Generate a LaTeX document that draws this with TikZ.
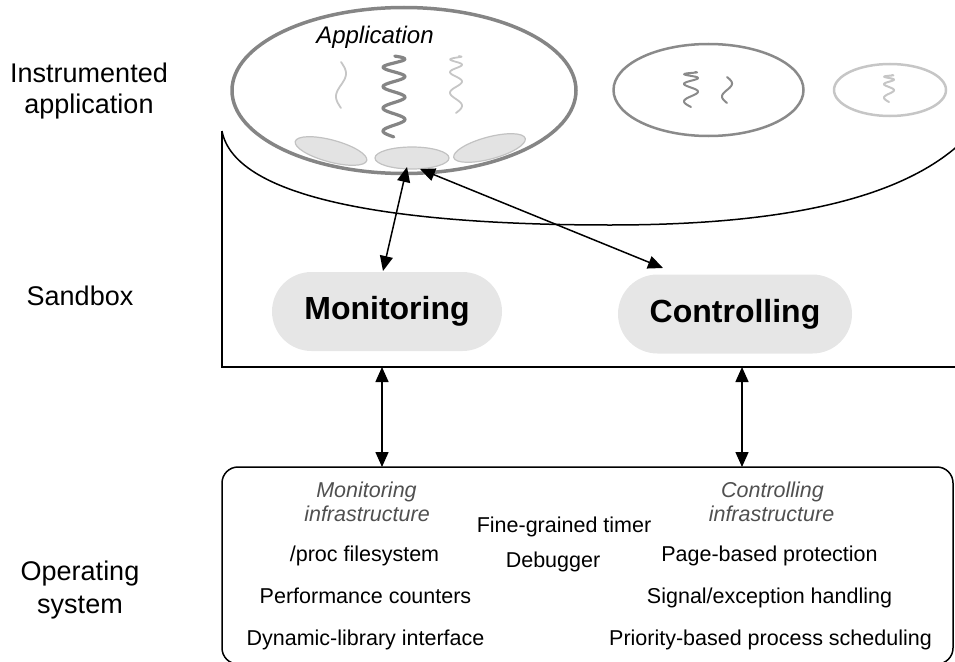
\documentclass[tikz,border=0pt]{standalone}
\usepackage{fontspec}
\setmainfont{Liberation Sans}
\usetikzlibrary{arrows.meta,shapes.geometric,shapes.misc}
\definecolor{pillgray}{HTML}{E6E6E6}
\definecolor{appgray}{HTML}{858585}
\definecolor{midgray}{HTML}{8A8A8A}
\definecolor{lightgray2}{HTML}{C6C6C6}
\definecolor{portfill}{HTML}{E3E3E3}
\definecolor{portedge}{HTML}{C2C2C2}
\definecolor{infragray}{HTML}{505050}
\newcommand\drawthread[8]{%
  \draw[color=#7, line width=#8, line cap=round, line join=round]
    plot[domain=0.001:1, samples=90, smooth]
    ({#1+#4*sin(360*#5*((\x)^(#6)))}, {#2+#3*\x});}
\tikzset{tiphead/.tip={Triangle[length=15pt,width=13pt]}}
\begin{document}
\begin{tikzpicture}[x=1pt, y=-1pt,
  lbl/.style={anchor=base, inner sep=0, font=\fontsize{27}{31}\selectfont},
  ostext/.style={anchor=base, inner sep=0, font=\fontsize{21.5}{25}\selectfont},
  osital/.style={anchor=base, inner sep=0, font=\fontsize{21.5}{25}\selectfont\itshape, text=infragray},
  pill/.style={rounded rectangle, fill=pillgray, minimum height=79pt, inner sep=0,
               font=\fontsize{32}{36}\selectfont\bfseries},
  port/.style={ellipse, fill=portfill, draw=portedge, line width=1.2pt, inner sep=0,
               minimum width=74pt, minimum height=22pt},
  conn/.style={line width=1.5pt, tiphead-tiphead},
  frame/.style={line width=1.5pt, black}]
\useasboundingbox (0,0) rectangle (955,661);

% left labels
\node[lbl] (ia1) at (89,82) {Instrumented};
\node[lbl] (ia2) at (89,113) {application};
\node[lbl] (sb) at (80,305) {Sandbox};
\node[lbl] (os1) at (80,580) {Operating};
\node[lbl] (os2) at (80,613) {system};

% sandbox outline
\draw[frame] (222,131) -- (222,367) -- (955,367);
\draw[frame] (222,131) .. controls (235,200) and (400,225) .. (610,225)
                       .. controls (780,225) and (900,200) .. (962,142);

% application (main)
\draw[appgray, line width=3.5pt] (404,90.5) ellipse [x radius=172, y radius=83];
\node[anchor=base, inner sep=0, font=\fontsize{24}{28}\selectfont\itshape] (apptitle) at (375,44) {Application};
\drawthread{341}{62}{46}{5}{1}{1}{lightgray2}{1.8pt}
\drawthread{394}{56}{81}{11}{4}{0.85}{appgray}{3.2pt}
\drawthread{456}{56}{57}{6}{3.5}{0.55}{lightgray2}{1.8pt}
\node[port, rotate=-15] (portL) at (331,151) {};
\node[port] (port) at (412,158) {};
\node[port, rotate=15] (portR) at (489.5,148) {};

% other applications
\draw[midgray, line width=2.5pt] (708.5,90) ellipse [x radius=95, y radius=46];
\drawthread{691}{72}{35}{7}{3}{0.5}{midgray}{2pt}
\drawthread{727}{77}{26}{5}{1}{1}{midgray}{2pt}
\draw[lightgray2, line width=2.5pt] (890,90) ellipse [x radius=56, y radius=26];
\drawthread{889}{75}{27}{5}{3}{0.5}{lightgray2}{2pt}

% sandbox components
\node[pill, minimum width=230pt] (mon) at (387,311.5) {Monitoring};
\node[pill, minimum width=234pt] (ctl) at (735,314) {Controlling};

% operating system box
\draw[frame, rounded corners=16pt] (222,467) rectangle (953,664);
\node[osital] (mi1) at (366.5,497) {Monitoring};
\node[osital] (mi2) at (367,521) {infrastructure};
\node[ostext] (proc) at (364.5,561) {/proc filesystem};
\node[ostext] (perf) at (365.5,603) {Performance counters};
\node[ostext] (dyn) at (365.5,645) {Dynamic-library interface};
\node[ostext] (timer) at (564,532) {Fine-grained timer};
\node[ostext] (dbg) at (553,567) {Debugger};
\node[osital] (ci1) at (772.5,497) {Controlling};
\node[osital] (ci2) at (771.5,521) {infrastructure};
\node[ostext] (page) at (769.5,561) {Page-based protection};
\node[ostext] (sig) at (769.5,603) {Signal/exception handling};
\node[ostext] (prio) at (770.5,645) {Priority-based process scheduling};

% connectors
\coordinate (monIn) at (383,271);
\coordinate (ctlIn) at (663,268);
\coordinate (portA) at (407,167);
\coordinate (portB) at (420,169);
\coordinate (sbM) at (382,367);
\coordinate (osM) at (382,467);
\coordinate (sbC) at (742,367);
\coordinate (osC) at (742,467);
\draw[conn] (monIn) -- (portA);
\draw[conn] (ctlIn) -- (portB);
\draw[conn] (sbM) -- (osM);
\draw[conn] (sbC) -- (osC);
\end{tikzpicture}
\end{document}
